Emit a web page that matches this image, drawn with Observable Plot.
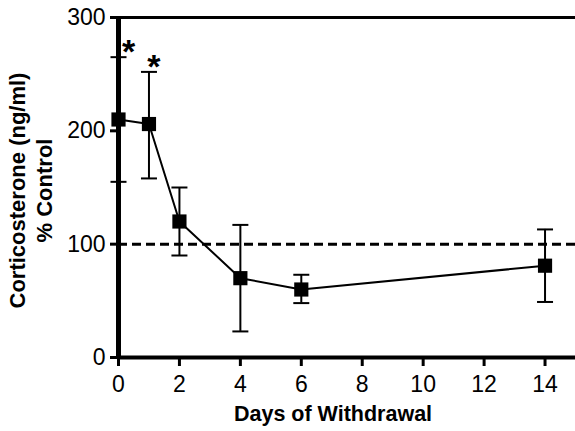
<!DOCTYPE html>
<html>
<head>
<meta charset="utf-8">
<script src="https://cdn.jsdelivr.net/npm/d3@7"></script>
<script src="https://cdn.jsdelivr.net/npm/@observablehq/plot@0.6"></script>
<style>
  html, body { margin: 0; padding: 0; background: #fff; }
</style>
</head>
<body>
<div id="chart"></div>
<script>
const days   = [0, 1, 2, 4, 6, 14];
const means  = [210, 206, 120, 70, 60, 81];
const uppers = [265, 252, 150, 117, 73, 113];
const lowers = [155, 158, 90, 23, 48, 49];
const xTicks = [0, 2, 4, 6, 8, 10, 12, 14];
const yTicks = [0, 100, 200, 300];
const controlLevel = 100;
const starDays = [0, 1];
const xLabel = "Days of Withdrawal";
const yLabel1 = "Corticosterone (ng/ml)";
const yLabel2 = "% Control";

const data = days.map((d, i) => ({day: d, mean: means[i], hi: uppers[i], lo: lowers[i]}));
const stars = data.filter(d => starDays.includes(d.day));

const capSymbol = {
  draw(context) {
    context.moveTo(-8, 0);
    context.lineTo(8, 0);
  }
};

const font = "'Liberation Sans', Arial, Helvetica, sans-serif";

const chart = Plot.plot({
  width: 575,
  height: 431,
  marginLeft: 118,
  marginRight: 0,
  marginTop: 17,
  marginBottom: 74,
  style: {fontFamily: font, background: "white", color: "black", overflow: "visible"},
  x: {domain: [0, 15]},
  y: {domain: [0, 300]},
  marks: [
    Plot.ruleY([controlLevel], {stroke: "black", strokeWidth: 3, strokeDasharray: "9,5"}),
    Plot.ruleY([300], {stroke: "black", strokeWidth: 3}),
    Plot.ruleX(data, {x: "day", y1: "lo", y2: "hi", stroke: "black", strokeWidth: 2}),
    Plot.dot(data, {x: "day", y: "hi", symbol: capSymbol, stroke: "black", strokeWidth: 2, fill: "none"}),
    Plot.dot(data, {x: "day", y: "lo", symbol: capSymbol, stroke: "black", strokeWidth: 2, fill: "none"}),
    Plot.line(data, {x: "day", y: "mean", stroke: "black", strokeWidth: 2}),
    Plot.dot(data, {x: "day", y: "mean", symbol: "square", r: 8, fill: "black", stroke: "none"}),
    Plot.text(stars.filter(d => d.day === 0), {x: "day", y: "hi", text: () => "*", dx: 10, dy: -5, fontSize: 34, fontWeight: "bold", lineAnchor: "middle"}),
    Plot.text(stars.filter(d => d.day === 1), {x: "day", y: "hi", text: () => "*", dx: 5, dy: -5, fontSize: 34, fontWeight: "bold", lineAnchor: "middle"}),
    Plot.axisX({ticks: xTicks, tickSize: 9, tickPadding: 9, strokeWidth: 3, fontSize: 23, label: null}),
    Plot.axisY({ticks: yTicks, tickSize: 8, tickPadding: 5, strokeWidth: 3, fontSize: 23, label: null}),
    Plot.ruleY([0], {stroke: "black", strokeWidth: 4}),
    Plot.ruleX([0], {stroke: "black", strokeWidth: 5}),
    Plot.text([xLabel], {frameAnchor: "bottom", dx: -14, dy: 63, fontSize: 21.5, fontWeight: "bold"}),
    Plot.text([yLabel1], {frameAnchor: "left", textAnchor: "middle", rotate: -90, dx: -101, dy: 3, fontSize: 22, fontWeight: "bold"}),
    Plot.text([yLabel2], {frameAnchor: "left", textAnchor: "middle", rotate: -90, dx: -74, dy: 3, fontSize: 22, fontWeight: "bold"})
  ]
});
document.getElementById("chart").append(chart);
</script>
</body>
</html>
